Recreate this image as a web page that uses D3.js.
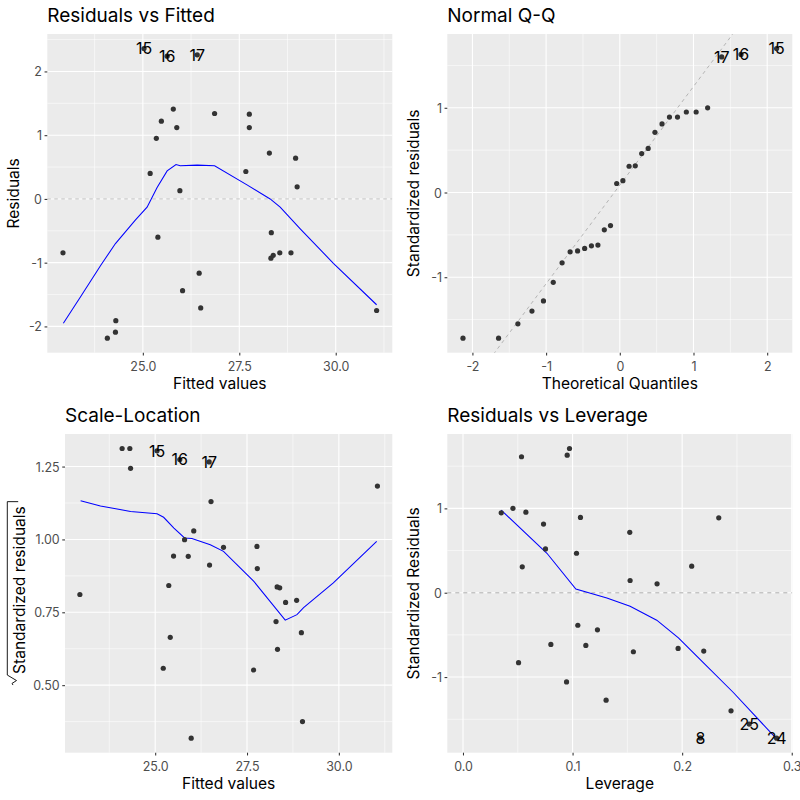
<!DOCTYPE html>
<html><head><meta charset="utf-8">
<script src="https://cdn.jsdelivr.net/npm/d3@7"></script>
<style>
body{margin:0;background:#fff}
svg{display:block}
text{font-family:Inter,"Noto Sans",sans-serif}
</style>
</head><body>
<svg id="chart" width="800" height="800"></svg>
<script>
// ---------------- DATA ----------------
// Residuals vs Fitted
const rvfFitted = [22.93,24.08,24.29,24.30,25.19,25.35,25.39,25.48,25.79,25.88,25.96,26.03,26.46,26.50,26.86,27.67,27.76,27.76,28.28,28.33,28.32,28.38,28.55,28.84,28.96,29.00,31.06,25.03,25.63,26.41];
const rvfResid  = [-0.845,-2.185,-2.09,-1.91,0.40,0.95,-0.60,1.22,1.41,1.12,0.13,-1.44,-1.165,-1.71,1.34,0.43,1.33,1.12,0.72,-0.53,-0.93,-0.885,-0.845,-0.845,0.64,0.19,-1.75,2.36,2.24,2.26];
const rvfLabels = ["","","","","","","","","","","","","","","","","","","","","","","","","","","","15","16","17"];
const rvfSmoothX = [22.94,23.39,23.91,24.29,24.81,25.11,25.37,25.63,25.86,25.97,26.41,26.86,27.70,28.30,28.56,29.08,29.94,31.06];
const rvfSmoothY = [-1.95,-1.53,-1.04,-0.70,-0.33,-0.13,0.18,0.44,0.54,0.52,0.53,0.52,0.22,0.0,-0.13,-0.47,-1.01,-1.66];
const rvfXTicks = [25, 27.5, 30];
const rvfXTickLabels = ["25.0","27.5","30.0"];
const rvfYTicks = [-2,-1,0,1,2];
const rvfYTickLabels = ["-2","-1","0","1","2"];

// Normal Q-Q
const qqTheoretical = [-2.128,-1.645,-1.383,-1.192,-1.036,-0.903,-0.783,-0.674,-0.573,-0.477,-0.385,-0.297,-0.210,-0.126,-0.042,0.042,0.126,0.210,0.297,0.385,0.477,0.573,0.674,0.783,0.903,1.036,1.192,1.383,1.645,2.128];
const qqSample = [-1.72,-1.72,-1.55,-1.40,-1.28,-1.06,-0.83,-0.70,-0.69,-0.66,-0.63,-0.62,-0.44,-0.39,0.106,0.14,0.31,0.315,0.46,0.52,0.71,0.81,0.89,0.89,0.95,0.95,1.00,1.60,1.63,1.70];
const qqLabels = ["","","","","","","","","","","","","","","","","","","","","","","","","","","","17","16","15"];
const qqLineIntercept = 0.087;
const qqLineSlope = 1.164;
const qqXTicks = [-2,-1,0,1,2];
const qqXTickLabels = ["-2","-1","0","1","2"];
const qqYTicks = [-1,0,1];
const qqYTickLabels = ["-1","0","1"];

// Scale-Location
const slFitted = [22.95,24.10,24.31,24.33,25.22,25.37,25.41,25.50,25.80,25.90,25.98,26.05,26.48,26.52,26.86,27.68,27.77,27.78,28.29,28.32,28.39,28.33,28.55,28.85,28.98,29.01,31.05,25.05,25.67,26.47];
const slValue  = [0.811,1.312,1.312,1.244,0.558,0.842,0.664,0.943,0.999,0.942,0.318,1.029,0.912,1.13,0.973,0.552,0.976,0.90,0.718,0.837,0.834,0.623,0.784,0.791,0.68,0.375,1.183,1.304,1.274,1.266];
const slLabels = ["","","","","","","","","","","","","","","","","","","","","","","","","","","","15","16","17"];
const slSmoothX = [22.97,23.51,24.33,25.05,25.23,25.51,25.80,26.00,26.50,26.86,27.68,28.54,28.86,29.04,29.85,31.03];
const slSmoothY = [1.133,1.115,1.096,1.088,1.076,1.039,1.005,1.003,0.982,0.959,0.857,0.723,0.742,0.766,0.851,0.993];
const slXTicks = [25, 27.5, 30];
const slXTickLabels = ["25.0","27.5","30.0"];
const slYTicks = [0.5,0.75,1.0,1.25];
const slYTickLabels = ["0.50","0.75","1.00","1.25"];

// Residuals vs Leverage
const rvlLeverage = [0.0349,0.0456,0.0507,0.0534,0.0541,0.0574,0.0735,0.0753,0.0802,0.0945,0.0951,0.0972,0.1036,0.1048,0.1072,0.1121,0.1227,0.1306,0.1522,0.1525,0.1555,0.1771,0.1963,0.2087,0.2197,0.2334,0.2446,0.2612,0.2166,0.2862];
const rvlStdResid = [0.947,1.0,-0.83,1.612,0.307,0.955,0.814,0.519,-0.613,-1.058,1.631,1.71,0.468,-0.386,0.893,-0.625,-0.44,-1.274,0.716,0.145,-0.70,0.106,-0.66,0.315,-0.692,0.888,-1.40,-1.557,-1.722,-1.725];
const rvlLabels = ["","","","","","","","","","","","","","","","","","","","","","","","","","","","25","8","24"];
const rvlSmoothX = [0.0349,0.0766,0.1030,0.1313,0.1525,0.1768,0.1966,0.2163,0.2467,0.2862];
const rvlSmoothY = [0.979,0.468,0.043,-0.063,-0.161,-0.326,-0.535,-0.79,-1.183,-1.733];
const rvlXTicks = [0,0.1,0.2,0.3];
const rvlXTickLabels = ["0.0","0.1","0.2","0.3"];
const rvlYTicks = [-1,0,1];
const rvlYTickLabels = ["-1","0","1"];

// ---------------- DRAW ----------------
const svg = d3.select("#chart");
let clipId = 0;

// calibrate font sizes so text widths match the reference rendering
function fitSize(base, str, target, lo, hi){
  const t = svg.append("text").attr("font-size",base).text(str);
  const w = t.node().getComputedTextLength();
  t.remove();
  const s = w > 0 ? base*target/w : base;
  return Math.max(lo, Math.min(hi, s));
}
const FS_TITLE = fitSize(17, "Residuals vs Fitted", 169, 15, 19);
const FS_AXTITLE = fitSize(14, "Standardized residuals", 168, 13, 16);
const FS_TICK = fitSize(11, "25.0", 26, 10, 12.5);
const FS_LABEL = fitSize(14, "16", 16.7, 12, 16);

function expand(ext){ const p=(ext[1]-ext[0])*0.05; return [ext[0]-p, ext[1]+p]; }
function minors(major, dom){
  const step = major[1]-major[0];
  const out = [major[0]-step/2];
  major.forEach(m => out.push(m+step/2));
  return out.filter(v => v>=Math.min(...dom) && v<=Math.max(...dom));
}

function panel(o){
  const b = o.box;
  const x = d3.scaleLinear().domain(o.xDom).range([b.l, b.r]);
  const y = d3.scaleLinear().domain(o.yDom).range([b.b, b.t]);
  const g = svg.append("g");
  g.append("rect").attr("x",b.l).attr("y",b.t).attr("width",b.r-b.l).attr("height",b.b-b.t).attr("fill","#EBEBEB");
  minors(o.xTicks, o.xDom).forEach(v => g.append("line").attr("x1",x(v)).attr("x2",x(v)).attr("y1",b.t).attr("y2",b.b).attr("stroke","#fff").attr("stroke-width",0.55));
  minors(o.yTicks, o.yDom).forEach(v => g.append("line").attr("y1",y(v)).attr("y2",y(v)).attr("x1",b.l).attr("x2",b.r).attr("stroke","#fff").attr("stroke-width",0.55));
  o.xTicks.forEach(v => g.append("line").attr("x1",x(v)).attr("x2",x(v)).attr("y1",b.t).attr("y2",b.b).attr("stroke","#fff").attr("stroke-width",1.1));
  o.yTicks.forEach(v => g.append("line").attr("y1",y(v)).attr("y2",y(v)).attr("x1",b.l).attr("x2",b.r).attr("stroke","#fff").attr("stroke-width",1.1));

  const id = "clip"+(clipId++);
  svg.append("clipPath").attr("id",id).append("rect").attr("x",b.l).attr("y",b.t).attr("width",b.r-b.l).attr("height",b.b-b.t);
  const c = g.append("g").attr("clip-path",`url(#${id})`);

  if(o.hline){
    c.append("line").attr("x1",b.l).attr("x2",b.r).attr("y1",y(0)).attr("y2",y(0))
      .attr("stroke",o.hline.color).attr("stroke-width",o.hline.w).attr("stroke-dasharray",o.hline.dash);
  }
  if(o.abline){
    const [x0,x1] = o.xDom;
    c.append("line").attr("x1",x(x0)).attr("x2",x(x1))
      .attr("y1",y(o.abline.a+o.abline.b*x0)).attr("y2",y(o.abline.a+o.abline.b*x1))
      .attr("stroke","#A6A6A6").attr("stroke-width",0.8).attr("stroke-dasharray","3.5,3.5");
  }
  if(o.sx){
    const pts = o.sx.map((v,i)=>[v,o.sy[i]]);
    c.append("path").attr("d", d3.line().x(d=>x(d[0])).y(d=>y(d[1]))(pts))
      .attr("fill","none").attr("stroke","#0000FF").attr("stroke-width",1.05);
  }
  o.px.forEach((v,i)=>{
    c.append("circle").attr("cx",x(v)).attr("cy",y(o.py[i])).attr("r",2.6).attr("fill","#333333");
  });
  o.px.forEach((v,i)=>{
    if(o.labels[i]) c.append("text").attr("x",x(v)).attr("y",y(o.py[i])).attr("dy","0.36em")
      .attr("text-anchor","middle").attr("font-size",FS_LABEL).attr("fill","#000").text(o.labels[i]);
  });

  const ax = g.append("g").attr("transform",`translate(0,${b.b})`)
    .call(d3.axisBottom(x).tickValues(o.xTicks).tickFormat((d,i)=>o.xTickLabels[i]).tickSize(2.75).tickPadding(0));
  ax.select(".domain").remove();
  ax.selectAll("line").attr("stroke","#333").attr("stroke-width",1.07);
  ax.selectAll("text").attr("y",18.3).attr("dy",null).attr("fill","#4D4D4D").attr("font-size",FS_TICK).attr("font-family",null);
  const ay = g.append("g").attr("transform",`translate(${b.l},0)`)
    .call(d3.axisLeft(y).tickValues(o.yTicks).tickFormat((d,i)=>o.yTickLabels[i]).tickSize(2.75).tickPadding(2.6));
  ay.select(".domain").remove();
  ay.selectAll("line").attr("stroke","#333").attr("stroke-width",1.07);
  ay.selectAll("text").attr("fill","#4D4D4D").attr("font-size",FS_TICK).attr("font-family",null).attr("dy","0.36em");

  g.append("text").attr("x",b.l).attr("y",b.t-12.3).attr("font-size",FS_TITLE).attr("fill","#000").text(o.title);
  g.append("text").attr("x",(b.l+b.r)/2).attr("y",b.b+36.3).attr("text-anchor","middle").attr("font-size",FS_AXTITLE).attr("fill","#000").text(o.xTitle);
  if(o.yTitle){
    g.append("text").attr("transform",`translate(${o.yTitleX},${(b.t+b.b)/2}) rotate(-90)`)
      .attr("text-anchor","middle").attr("font-size",FS_AXTITLE).attr("fill","#000").text(o.yTitle);
  }
  return {x,y,g};
}

// Panel 1
panel({
  box:{l:47.3,r:392.3,t:34,b:352.7},
  xDom: expand(d3.extent(rvfFitted)), yDom: expand(d3.extent(rvfResid)),
  xTicks:rvfXTicks, xTickLabels:rvfXTickLabels, yTicks:rvfYTicks, yTickLabels:rvfYTickLabels,
  px:rvfFitted, py:rvfResid, labels:rvfLabels, sx:rvfSmoothX, sy:rvfSmoothY,
  hline:{color:"#B3B3B3", w:0.8, dash:"3.5,3.5"},
  title:"Residuals vs Fitted", xTitle:"Fitted values", yTitle:"Residuals", yTitleX:18.5
});
// Panel 2
panel({
  box:{l:447.3,r:792.3,t:34,b:352.7},
  xDom: expand(d3.extent(qqTheoretical)), yDom: expand(d3.extent(qqSample)),
  xTicks:qqXTicks, xTickLabels:qqXTickLabels, yTicks:qqYTicks, yTickLabels:qqYTickLabels,
  px:qqTheoretical, py:qqSample, labels:qqLabels,
  abline:{a:qqLineIntercept, b:qqLineSlope},
  title:"Normal Q-Q", xTitle:"Theoretical Quantiles", yTitle:"Standardized residuals", yTitleX:418.5
});
// Panel 3
const p3box = {l:65,r:392.3,t:434,b:752.7};
const p3 = panel({
  box:p3box,
  xDom: expand(d3.extent(slFitted)), yDom: expand(d3.extent(slValue)),
  xTicks:slXTicks, xTickLabels:slXTickLabels, yTicks:slYTicks, yTickLabels:slYTickLabels,
  px:slFitted, py:slValue, labels:slLabels, sx:slSmoothX, sy:slSmoothY,
  title:"Scale-Location", xTitle:"Fitted values", yTitle:null
});
// sqrt(|Standardized residuals|) y title
{
  const cy = (p3box.t+p3box.b)/2;
  const tg = p3.g.append("g").attr("transform",`translate(25,${cy}) rotate(-90)`);
  const t = tg.append("text").attr("font-size",FS_AXTITLE).attr("fill","#000").text("Standardized residuals");
  const w = t.node().getComputedTextLength();
  const rad = 11, gap = 4.5;
  const total = rad + w + gap;
  const sx = -total/2;
  t.attr("x", sx + rad);
  const ex = sx + rad + w + gap;
  tg.append("path")
    .attr("d",`M${sx},${-12} L${sx+1.6},${-13} L${sx+4.5},${-8.5} L${sx+10},${-17.7} L${ex},${-17.7} L${ex},${-6.8}`)
    .attr("fill","none").attr("stroke","#000").attr("stroke-width",0.9).attr("stroke-linejoin","miter");
}
// Panel 4
panel({
  box:{l:447.3,r:792.3,t:434,b:752.7},
  xDom: expand([0, d3.max(rvlLeverage)]), yDom: expand(d3.extent(rvlStdResid)),
  xTicks:rvlXTicks, xTickLabels:rvlXTickLabels, yTicks:rvlYTicks, yTickLabels:rvlYTickLabels,
  px:rvlLeverage, py:rvlStdResid, labels:rvlLabels, sx:rvlSmoothX, sy:rvlSmoothY,
  hline:{color:"#C4C4C4", w:1.4, dash:"4,4"},
  title:"Residuals vs Leverage", xTitle:"Leverage", yTitle:"Standardized Residuals", yTitleX:418.5
});
</script>
</body></html>
